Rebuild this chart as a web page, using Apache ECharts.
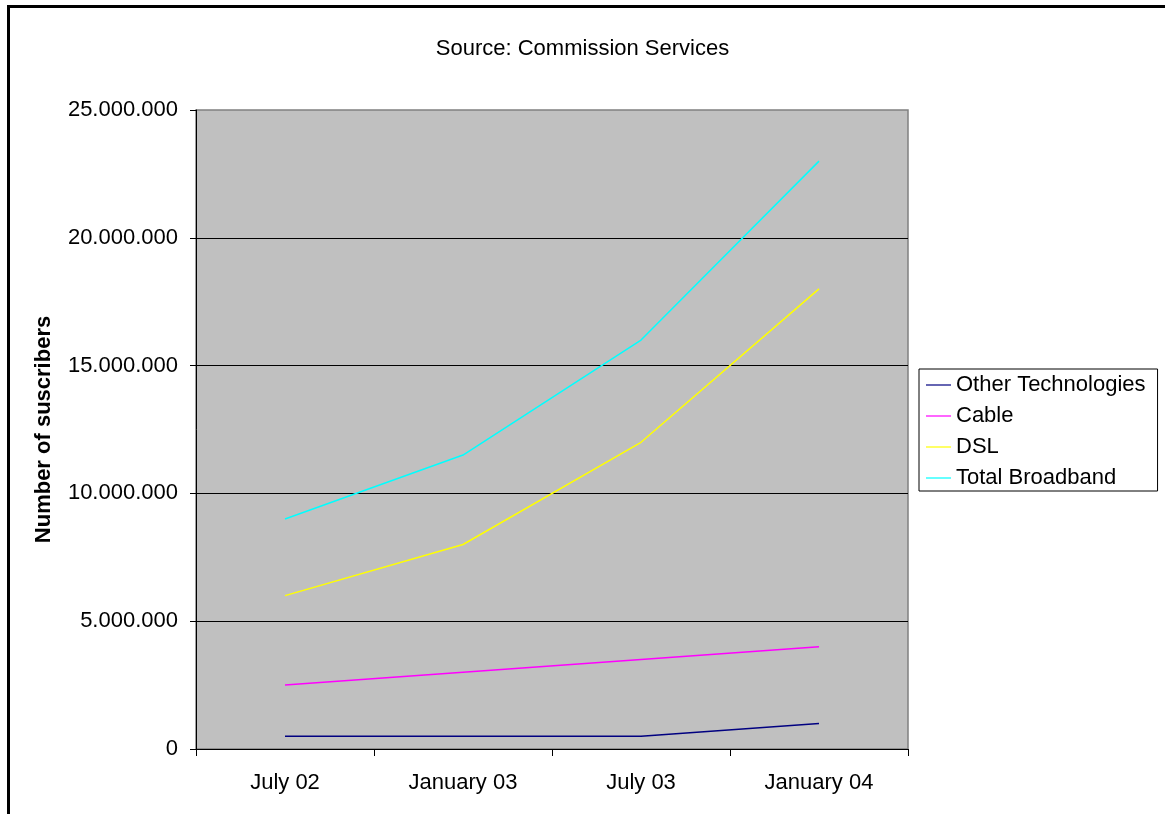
<!DOCTYPE html>
<html>
<head>
<meta charset="utf-8">
<title>Broadband subscribers</title>
<script src="https://cdn.jsdelivr.net/npm/echarts@6/dist/echarts.min.js"></script>
<style>
  html, body { margin: 0; padding: 0; background: #fff; }
  #chart { width: 1165px; height: 814px; }
</style>
</head>
<body>
<div id="chart"></div>
<script>
// Broadband subscribers by technology
const periods = ['July 02', 'January 03', 'July 03', 'January 04'];
const otherTechnologies = [500000, 500000, 500000, 1000000];
const cable = [2500000, 3000000, 3500000, 4000000];
const dsl = [6000000, 8000000, 12000000, 18000000];
const totalBroadband = [9000000, 11500000, 16000000, 23000000];

const font = 'Liberation Sans, Arial, sans-serif';

function dotted(v) {
  return String(v).replace(/\B(?=(\d{3})+(?!\d))/g, '.');
}

function lineSeries(name, data, color) {
  return {
    name: name,
    type: 'line',
    data: data,
    symbol: 'none',
    showSymbol: false,
    lineStyle: { color: color, width: 1.5 },
    itemStyle: { color: color },
    emphasis: { disabled: true },
    animation: false
  };
}

const chart = echarts.init(document.getElementById('chart'));
chart.setOption({
  animation: false,
  backgroundColor: '#ffffff',
  graphic: [{
    type: 'rect',
    shape: { x: 8.5, y: 6.5, width: 1300, height: 1000 },
    style: { fill: 'none', stroke: '#000', lineWidth: 3 },
    silent: true
  }],
  title: {
    text: 'Source: Commission Services',
    left: 'center',
    top: 33,
    textStyle: { fontFamily: font, fontSize: 22, fontWeight: 'normal', color: '#000' }
  },
  legend: {
    orient: 'vertical',
    left: 919,
    top: 369,
    padding: [4, 12, 1, 7],
    itemGap: 7,
    itemWidth: 25,
    itemHeight: 1.2,
    icon: 'rect',
    borderColor: '#000',
    borderWidth: 1,
    backgroundColor: '#fff',
    selectedMode: false,
    textStyle: { fontFamily: font, fontSize: 22, color: '#000', lineHeight: 24 },
    data: ['Other Technologies', 'Cable', 'DSL', 'Total Broadband']
  },
  grid: {
    left: 196,
    top: 110,
    width: 712,
    height: 639,
    show: true,
    backgroundColor: '#c0c0c0',
    borderColor: '#808080',
    borderWidth: 1.5
  },
  xAxis: {
    type: 'category',
    data: periods,
    boundaryGap: true,
    axisLine: { lineStyle: { color: '#000', width: 1 } },
    axisTick: { show: true, length: 7, lineStyle: { color: '#000' } },
    axisLabel: { fontFamily: font, fontSize: 22, color: '#000', margin: 23 },
    splitLine: { show: false }
  },
  yAxis: {
    type: 'value',
    min: 0,
    max: 25000000,
    interval: 5000000,
    name: 'Number of suscribers',
    nameLocation: 'middle',
    nameRotate: 90,
    nameGap: 141,
    nameTextStyle: { fontFamily: font, fontSize: 22, fontWeight: 'bold', color: '#000' },
    axisLine: { show: true, lineStyle: { color: '#000', width: 1 } },
    axisTick: { show: true, length: 6, lineStyle: { color: '#000' } },
    axisLabel: {
      fontFamily: font, fontSize: 22, color: '#000', margin: 18,
      formatter: function (v) { return dotted(v); }
    },
    splitLine: { show: true, showMaxLine: false, lineStyle: { color: '#000', width: 1 } }
  },
  series: [
    lineSeries('Other Technologies', otherTechnologies, '#000080'),
    lineSeries('Cable', cable, '#ff00ff'),
    lineSeries('DSL', dsl, '#ffff00'),
    lineSeries('Total Broadband', totalBroadband, '#00ffff')
  ]
});
</script>
</body>
</html>
